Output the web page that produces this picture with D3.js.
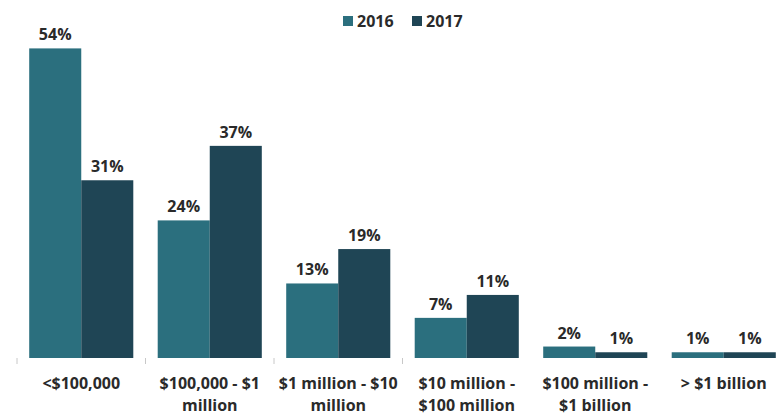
<!DOCTYPE html>
<html><head><meta charset="utf-8">
<script src="https://cdn.jsdelivr.net/npm/d3@7"></script>
<style>body{margin:0;background:#fff}svg{display:block}</style>
</head><body>
<svg id="c" width="780" height="417"></svg>
<script>
const categories = ["<$100,000", "$100,000 - $1 million", "$1 million - $10 million", "$10 million - $100 million", "$100 million - $1 billion", "> $1 billion"];
const categoryLines = [["<$100,000"], ["$100,000 - $1", "million"], ["$1 million - $10", "million"], ["$10 million -", "$100 million"], ["$100 million -", "$1 billion"], ["> $1 billion"]];
const seriesNames = ["2016", "2017"];
const values2016 = [54, 24, 13, 7, 2, 1];
const values2017 = [31, 37, 19, 11, 1, 1];
const colors = ["#2b6f7e", "#1f4555"];

const svg = d3.select("#c");
const font = "'Open Sans', sans-serif";
const fs = 16;
const base = 358;
const x = d3.scaleBand().domain(categories).range([17, 788]).paddingInner(0.19).paddingOuter(0.095);
const xs = d3.scaleBand().domain(seriesNames).range([0, x.bandwidth()]);
const y = d3.scaleLinear().domain([0, 60]).range([base, base - 344]);

const data = categories.map((c, i) => ({c, i, v: [values2016[i], values2017[i]]}));

const g = svg.append("g");
const grp = g.selectAll("g.grp").data(data).join("g").attr("transform", d => `translate(${x(d.c)},0)`);
seriesNames.forEach((s, k) => {
  grp.append("rect")
    .attr("x", xs(s)).attr("width", xs.bandwidth())
    .attr("y", d => y(d.v[k])).attr("height", d => base - y(d.v[k]))
    .attr("fill", colors[k]);
  grp.append("text")
    .attr("x", xs(s) + xs.bandwidth() / 2)
    .attr("y", d => y(d.v[k]) - 8)
    .attr("text-anchor", "middle")
    .attr("font-family", font).attr("font-weight", 700).attr("font-size", fs)
    .attr("fill", "#2a2a2a")
    .text(d => d.v[k] + "%");
});

// tick marks between categories
const step = x.step();
const tickPos = d3.range(categories.length).map(i => x(categories[i]) - x.paddingInner() * step / 2);
g.selectAll("line.tick").data(tickPos.slice(0, 4)).join("line")
  .attr("x1", d => d).attr("x2", d => d).attr("y1", base).attr("y2", base + 6)
  .attr("stroke", "#c8c8c8").attr("stroke-width", 1);

// category labels
const lab = g.selectAll("text.cat").data(data).join("text")
  .attr("class", "cat")
  .attr("text-anchor", "middle")
  .attr("font-family", font).attr("font-weight", 700).attr("font-size", fs)
  .attr("fill", "#2a2a2a")
  .attr("transform", d => `translate(${x(d.c) + x.bandwidth() / 2},389)`);
lab.selectAll("tspan").data(d => categoryLines[d.i]).join("tspan")
  .attr("x", 0).attr("dy", (d, j) => j === 0 ? 0 : 22).text(d => d);

// legend
const leg = svg.append("g").attr("transform", "translate(343,22)");
seriesNames.forEach((s, k) => {
  const lx = k * 69;
  leg.append("rect").attr("x", lx).attr("y", -6).attr("width", 10).attr("height", 10).attr("fill", colors[k]);
  leg.append("text").attr("x", lx + 14).attr("y", 5)
    .attr("font-family", font).attr("font-weight", 700).attr("font-size", fs)
    .attr("fill", "#2a2a2a").text(s);
});
</script>
</body></html>
